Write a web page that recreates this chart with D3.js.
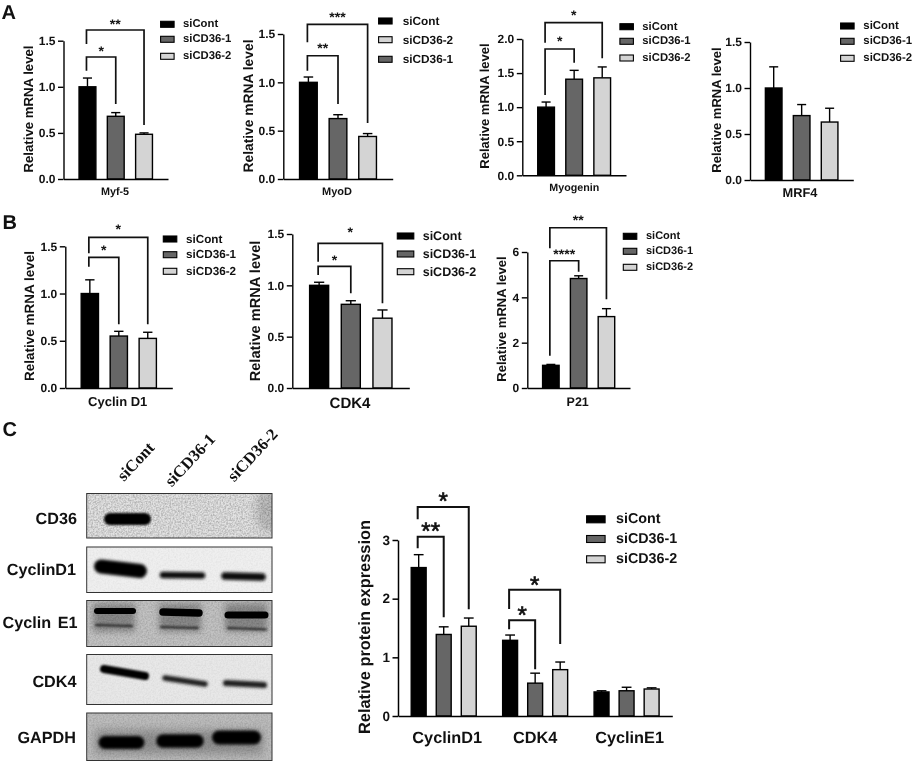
<!DOCTYPE html>
<html><head><meta charset="utf-8">
<script src="https://cdn.jsdelivr.net/npm/d3@7"></script>
<style>html,body{margin:0;padding:0;background:#fff}svg{display:block;filter:blur(0.35px)}text{font-family:"Liberation Sans",Arial,sans-serif;font-weight:700;fill:#111;text-rendering:geometricPrecision}</style>
</head><body><svg id="fig" width="913" height="763"></svg>
<script>
// ---------- data ----------
const conditions = ["siCont","siCD36-1","siCD36-2"];
const legendAltOrder = ["siCont","siCD36-2","siCD36-1"];
const myf5Values = [1.0,0.68,0.485];        const myf5Tops = [1.095,0.72,0.5];
const myodValues = [1.0,0.625,0.44];        const myodTops = [1.055,0.665,0.47];
const myogeninValues = [1.0,1.41,1.43];     const myogeninTops = [1.075,1.54,1.59];
const mrf4Values = [1.0,0.70,0.63];         const mrf4Tops = [1.23,0.82,0.78];
const cyclinD1Values = [1.0,0.55,0.525];    const cyclinD1Tops = [1.145,0.6,0.59];
const cdk4Values = [1.0,0.815,0.68];        const cdk4Tops = [1.03,0.85,0.76];
const p21Values = [1.0,4.83,3.15];          const p21Tops = [1.04,4.95,3.5];
const proteinGroups = ["CyclinD1","CDK4","CyclinE1"];
const proteinValues = [[2.53,1.39,1.53],[1.29,0.56,0.79],[0.41,0.43,0.46]];
const proteinTops = [[2.75,1.52,1.67],[1.38,0.73,0.92],[0.43,0.49,0.48]];
const ticks15 = [0,0.5,1.0,1.5];
const ticks20 = [0,0.5,1.0,1.5,2.0];
const ticksP21 = [0,2,4,6];
const ticksProtein = [0,1,2,3];
// significance: bar a–bar b, [bracket level, left leg end, right leg end, star level], label
const sigMyf5 = [[0,2,1.616,1.464,0.586,1.72,"**"],[0,1,1.323,1.175,0.813,1.43,"*"]];
const sigMyod = [[0,2,1.60,1.414,0.579,1.707,"***"],[0,1,1.275,1.12,0.776,1.386,"**"]];
const sigMyogenin = [[0,2,2.239,1.946,1.717,2.396,"*"],[0,1,1.853,1.178,1.652,2.015,"*"]];
const sigCyclinD1 = [[0,2,1.595,1.426,0.674,1.718,"*"],[0,1,1.383,1.284,0.674,1.496,"*"]];
const sigCdk4 = [[0,2,1.409,1.23,0.825,1.549,"*"],[0,1,1.185,1.10,0.922,1.279,"*"]];
const sigP21 = [[0,2,7.07,6.16,3.91,7.56,"**"],[0,1,5.615,1.425,5.13,6.06,"****"]];
const sigProtein = [[0,2,3.562,3.353,1.819,3.767,"*"],[0,1,3.056,2.858,1.682,3.255,"**"],[3,5,2.153,1.824,1.227,2.347,"*"],[3,4,1.631,1.478,0.796,1.836,"*"]];
const blotNames = ["CD36","CyclinD1","Cyclin E1","CDK4","GAPDH"];

// ---------- style / layout ----------
const fills = ["#000000","#666666","#d4d4d4"];
const color = d3.scaleOrdinal(conditions, fills);
const svg = d3.select("#fig");
const defs = svg.append("defs");
[0.7,1.2,1.8,3,5].forEach(s=>defs.append("filter").attr("id","b"+String(s).replace(".","_"))
  .attr("filterUnits","userSpaceOnUse").attr("x",0).attr("y",0).attr("width",913).attr("height",763)
  .append("feGaussianBlur").attr("stdDeviation",s));
const noise = defs.append("filter").attr("id","noise").attr("x",0).attr("y",0).attr("width","100%").attr("height","100%");
noise.append("feTurbulence").attr("type","fractalNoise").attr("baseFrequency",0.6).attr("numOctaves",2).attr("seed",4);
noise.append("feColorMatrix").attr("type","matrix").attr("values","0 0 0 0 0  0 0 0 0 0  0 0 0 0 0  1.6 0 0 0 -0.55");

const panels = [
 {name:"Myf-5",values:myf5Values,tops:myf5Tops,ticks:ticks15,sig:sigMyf5,ax:63.5,xe:168,y0:179,yt:40.7,
  title:{x:28.5,y:109,fs:13.2},lab:{x:115,y:192,fs:10.8},leg:{x:160,ys:[24.3,39.3,56.3],tx:183,fs:11.3}},
 {name:"MyoD",values:myodValues,tops:myodTops,ticks:ticks15,sig:sigMyod,ax:283.3,xe:392.7,y0:179,yt:34,
  title:{x:248.5,y:106,fs:13.8},lab:{x:337,y:192,fs:11},leg:{x:378,ys:[21,39.7,59.3],tx:402.7,fs:11.8,order:legendAltOrder}},
 {name:"Myogenin",values:myogeninValues,tops:myogeninTops,ticks:ticks20,sig:sigMyogenin,ax:522.3,xe:626,y0:175.3,yt:39,
  title:{x:484.5,y:106,fs:13},lab:{x:574.3,y:187.7,fs:10.7},leg:{x:619.3,ys:[26.7,41.3,58],tx:642.3,fs:11.3}},
 {name:"MRF4",values:mrf4Values,tops:mrf4Tops,ticks:ticks15,sig:[],ax:750,xe:853.3,y0:180,yt:42,
  title:{x:716.5,y:110,fs:13},lab:{x:800,y:192.7,fs:12.8},leg:{x:840,ys:[26,41.3,58.3],tx:863.3,fs:11.4}},
 {name:"Cyclin D1",values:cyclinD1Values,tops:cyclinD1Tops,ticks:ticks15,sig:sigCyclinD1,ax:65.3,xe:172.3,y0:388,yt:246.3,
  title:{x:29.8,y:316,fs:13.5},lab:{x:117.7,y:401.7,fs:13},leg:{x:162.7,ys:[239,254.7,271.3],tx:186,fs:11.7}},
 {name:"CDK4",values:cdk4Values,tops:cdk4Tops,ticks:ticks15,sig:sigCdk4,ax:292.3,xe:409.3,y0:388,yt:234,
  title:{x:255.5,y:311,fs:14.6},lab:{x:350,y:403.3,fs:15},leg:{x:396.7,ys:[236,254,271.7],tx:422.7,fs:12.5},swW:16.5},
 {name:"P21",values:p21Values,tops:p21Tops,ticks:ticksP21,fmt:"d",sig:sigP21,ax:527.3,xe:630,y0:388,yt:252,
  title:{x:501,y:319,fs:13},lab:{x:577.7,y:401.7,fs:12.5},leg:{x:622.7,ys:[236.3,251.3,267.3],tx:646,fs:11}}
];

function yAxis(g,p,y,fs,strokeW){
  const a = g.append("g").attr("transform",`translate(${p.ax},0)`)
   .call(d3.axisLeft(y).tickValues(p.ticks).tickSize(5.5).tickPadding(2.5).tickSizeOuter(0)
     .tickFormat(d3.format(p.fmt||".1f")));
  a.selectAll("path,line").attr("stroke","#000").attr("stroke-width",strokeW);
  a.selectAll("text").style("font-size",fs+"px").style("font-family",'"Liberation Sans"').style("font-weight",700).attr("fill","#111");
  const b = g.append("g").attr("transform",`translate(0,${p.y0})`)
    .call(d3.axisBottom(d3.scaleLinear([p.ax,p.xe],[p.ax,p.xe])).tickValues([]).tickSizeOuter(0));
  b.select("path").attr("stroke","#000").attr("stroke-width",strokeW);
}
function yTitle(g,t,text){
  g.append("text").attr("transform",`translate(${t.x},${t.y}) rotate(-90)`).attr("text-anchor","middle")
   .attr("dominant-baseline","central").style("font-size",t.fs+"px").text(text);
}
function drawBars(g,data,y,y0,sw,capFrac){
  g.selectAll("line.err").data(data).join("line").attr("class","err")
    .attr("x1",d=>d.cx).attr("x2",d=>d.cx).attr("y1",d=>y(d.value)).attr("y2",d=>y(d.top))
    .attr("stroke","#000").attr("stroke-width",sw);
  g.selectAll("line.cap").data(data).join("line").attr("class","cap")
    .attr("x1",d=>d.cx-d.w*capFrac).attr("x2",d=>d.cx+d.w*capFrac).attr("y1",d=>y(d.top)).attr("y2",d=>y(d.top))
    .attr("stroke","#000").attr("stroke-width",sw);
  g.selectAll("rect.bar").data(data).join("rect").attr("class","bar")
    .attr("x",d=>d.cx-d.w/2+sw/2).attr("width",d=>d.w-sw)
    .attr("y",d=>y(d.value)).attr("height",d=>y0-y(d.value))
    .attr("fill",d=>color(d.cond)).attr("stroke","#000").attr("stroke-width",sw);
}
function drawSig(g,sig,cx,y,sw,starFs,starStroke){
  sig.forEach(([a,b,lvl,le,re,st,lab])=>{
    const xa=cx[a]-1, xb=cx[b];
    const path=d3.path();
    path.moveTo(xa,y(le));path.lineTo(xa,y(lvl));path.lineTo(xb,y(lvl));path.lineTo(xb,y(re));
    g.append("path").attr("d",path.toString()).attr("fill","none").attr("stroke","#111").attr("stroke-width",sw);
    const t=g.append("text").attr("x",(xa+xb)/2).attr("y",y(st)+starFs*0.6).attr("text-anchor","middle")
      .style("font-size",starFs+"px").text(lab);
    if(starStroke) t.style("font-weight",400).attr("stroke","#111").attr("stroke-width",starStroke);
  });
}
function legend(g,l,h,w){
  (l.order||conditions).forEach((c,i)=>{
    g.append("rect").attr("x",l.x+0.6).attr("y",l.ys[i]-h/2).attr("width",w).attr("height",h)
      .attr("fill",color(c)).attr("stroke","#000").attr("stroke-width",1.1);
    g.append("text").attr("x",l.tx).attr("y",l.ys[i]).attr("dominant-baseline","central")
      .style("font-size",l.fs+"px").text(c);
  });
}

panels.forEach(p=>{
  const g=svg.append("g");
  const y=d3.scaleLinear([0,p.ticks[p.ticks.length-1]],[p.y0,p.yt]);
  const x=d3.scaleBand(conditions,[p.ax,p.xe]).paddingInner(.355).paddingOuter(.525);
  const data=conditions.map((c,i)=>({cond:c,value:p.values[i],top:p.tops[i],cx:x(c)+x.bandwidth()/2,w:x.bandwidth()}));
  drawBars(g,data,y,p.y0,1.4,.25);
  yAxis(g,p,y,12,1.4);
  yTitle(g,p.title,"Relative mRNA level");
  g.append("text").attr("x",p.lab.x).attr("y",p.lab.y).attr("text-anchor","middle").attr("dominant-baseline","central")
    .style("font-size",p.lab.fs+"px").text(p.name);
  drawSig(g,p.sig,data.map(d=>d.cx),y,1.7,14,0);
  legend(g,p.leg,6,p.swW||13.5);
});

// protein chart
(function(){
  const p={ax:398,xe:672.3,y0:716,yt:540,ticks:ticksProtein,fmt:"d"};
  const g=svg.append("g");
  const y=d3.scaleLinear([0,3],[p.y0,p.yt]);
  const x0=d3.scaleBand(proteinGroups,[p.ax,p.xe]);
  const x1=d3.scaleBand(conditions,[0,x0.bandwidth()]).paddingInner(.348).paddingOuter(.5);
  const data=proteinGroups.flatMap((gr,i)=>conditions.map((c,j)=>({cond:c,value:proteinValues[i][j],top:proteinTops[i][j],
      cx:x0(gr)+x1(c)+x1.bandwidth()/2,w:x1.bandwidth()})));
  drawBars(g,data,y,p.y0,1.4,.3);
  yAxis(g,p,y,13.5,1.5);
  yTitle(g,{x:364.5,y:627,fs:16.4},"Relative protein expression");
  proteinGroups.forEach((gr,i)=>g.append("text").attr("x",x0(gr)+x0.bandwidth()/2+[3.5,0,3][i]).attr("y",738)
    .attr("text-anchor","middle").attr("dominant-baseline","central").style("font-size","16.3px").text(gr));
  drawSig(g,sigProtein,data.map(d=>d.cx),y,2,24,0.7);
  legend(g,{x:586,ys:[519.3,539,559.3],tx:616,fs:14.3},7,18.5);
})();

// panel letters
[["A",1.5,18.5,20],["B",2.5,229,20],["C",2.5,435.5,20]].forEach(([t,x,yy,fs])=>
  svg.append("text").attr("x",x).attr("y",yy).style("font-size",fs+"px").text(t));

// western blots (image stand-in: background, grain, blurred bands)
const blotBoxes=[[493.5,538],[547,592.5],[600.5,646.5],[654.5,704.5],[713,760.5]];
const blotBg=["#e2e2e2","#efefef","#c2c2c2","#e8e8e8","#bdbdbd"];
const blotGrain=[.3,.05,.18,.06,.15];
const blotX=[86.7,272];
const blotBands=[
 [[110,519,145,519,12,"#000","b1_2"]],
 [[101,566.5,140,571,14,"#000","b1_8"],[163,575,202,575.5,6.5,"#111","b1_8"],[225,576,262,577,7.5,"#0a0a0a","b1_8"]],
 [[97,611,133,611,6,"#000","b0_7"],[163,612,199,613,7.5,"#000","b0_7"],[228,615,265,615,7,"#000","b0_7"],
  [96,625,132,626,2,"#222","b1_2"],[161,627,198,628,2,"#222","b1_2"],[228,628,266,629.5,2,"#222","b1_2"]],
 [[104,669,145,676,8,"#000","b1_2"],[165,678,205,684,5.5,"#1a1a1a","b1_8"],[226,683,264,685,6,"#1a1a1a","b1_8"]],
 [[105,742.5,138,742.5,13,"#000","b1_8"],[163,741,197,741,13.5,"#000","b1_8"],[219,737.5,254,737.5,14,"#000","b1_8"]]
];
const blots=svg.append("g");
blotNames.forEach((n,i)=>{
  const [t,b]=blotBoxes[i];
  const id="clip"+i;
  defs.append("clipPath").attr("id",id).append("rect").attr("x",blotX[0]).attr("y",t).attr("width",blotX[1]-blotX[0]).attr("height",b-t);
  const g=blots.append("g").attr("clip-path",`url(#${id})`);
  g.append("rect").attr("x",blotX[0]).attr("y",t).attr("width",blotX[1]-blotX[0]).attr("height",b-t).attr("fill",blotBg[i]);
  if(i===0) g.append("ellipse").attr("cx",268).attr("cy",510).attr("rx",12).attr("ry",22).attr("fill","#bbb").attr("filter","url(#b5)");
  if(i===2) [114,180,246].forEach(c=>g.append("rect").attr("x",c-21).attr("y",t+3).attr("width",42).attr("height",28).attr("fill","#888").attr("filter","url(#b3)"));
  if(i===4) g.append("rect").attr("x",95).attr("y",730).attr("width",168).attr("height",24).attr("fill","#8f8f8f").attr("filter","url(#b5)");
  g.append("rect").attr("x",blotX[0]).attr("y",t).attr("width",blotX[1]-blotX[0]).attr("height",b-t).attr("filter","url(#noise)").attr("opacity",blotGrain[i]);
  blotBands[i].forEach(([x1,y1,x2,y2,w,c,f])=>g.append("line").attr("x1",x1).attr("y1",y1).attr("x2",x2).attr("y2",y2)
    .attr("stroke",c).attr("stroke-width",w).attr("stroke-linecap","round").attr("filter",`url(#${f})`));
  blots.append("rect").attr("x",blotX[0]).attr("y",t).attr("width",blotX[1]-blotX[0]).attr("height",b-t)
    .attr("fill","none").attr("stroke","#333").attr("stroke-width",1);
});
const blotLabelY=[519,570,623,682,738];
blotNames.forEach((n,i)=>blots.append("text").attr("x",[77,76,77.5,76.5,76][i]).attr("y",blotLabelY[i]).attr("text-anchor","end")
   .attr("dominant-baseline","central").style("font-size","16.2px").style("word-spacing",i===2?"2px":null).text(n));
const laneLabelPos=[[135.7,461.5],[190,460],[252.5,455]];
conditions.forEach((c,i)=>blots.append("text")
   .attr("transform",`translate(${laneLabelPos[i][0]},${laneLabelPos[i][1]}) rotate(-47)`)
   .attr("text-anchor","middle").attr("dominant-baseline","central")
   .style("font-family",'"Liberation Serif"').style("font-size","16.5px").text(c));
</script></body></html>
